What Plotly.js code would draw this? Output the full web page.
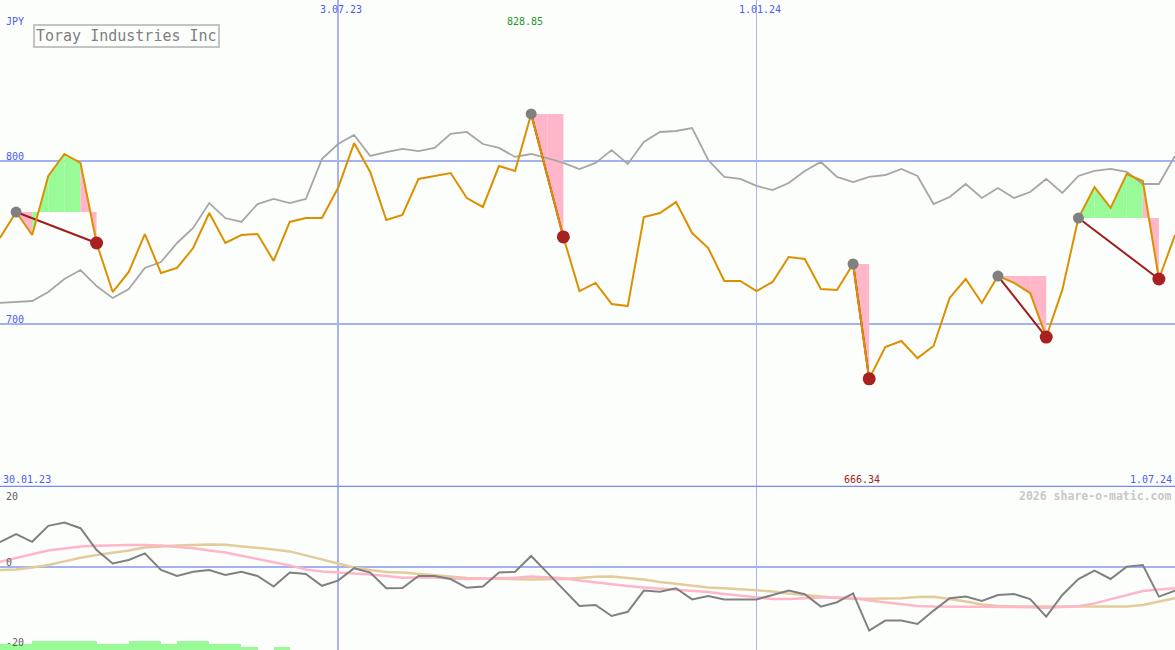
<!DOCTYPE html>
<html>
<head>
<meta charset="utf-8">
<script src="https://cdn.plot.ly/plotly-3.0.1.min.js"></script>
<style>
html,body{margin:0;padding:0;background:#fcfefc;}
#chart{width:1175px;height:650px;}
</style>
</head>
<body>
<div id="chart"></div>
<script>
// ---- data (weekly) ----
const dates = ["2023-02-06","2023-02-13","2023-02-20","2023-02-27","2023-03-06","2023-03-13","2023-03-20","2023-03-27",
"2023-04-03","2023-04-10","2023-04-17","2023-04-24","2023-05-01","2023-05-08","2023-05-15","2023-05-22","2023-05-29",
"2023-06-05","2023-06-12","2023-06-19","2023-06-26","2023-07-03","2023-07-10","2023-07-17","2023-07-24","2023-07-31",
"2023-08-07","2023-08-14","2023-08-21","2023-08-28","2023-09-04","2023-09-11","2023-09-18","2023-09-25","2023-10-02",
"2023-10-09","2023-10-16","2023-10-23","2023-10-30","2023-11-06","2023-11-13","2023-11-20","2023-11-27","2023-12-04",
"2023-12-11","2023-12-18","2023-12-25","2024-01-01","2024-01-08","2024-01-15","2024-01-22","2024-01-29","2024-02-05",
"2024-02-12","2024-02-19","2024-02-26","2024-03-04","2024-03-11","2024-03-18","2024-03-25","2024-04-01","2024-04-08",
"2024-04-15","2024-04-22","2024-04-29","2024-05-06","2024-05-13","2024-05-20","2024-05-27","2024-06-03","2024-06-10",
"2024-06-17","2024-06-24","2024-07-01"];

const price = [752.8, 768.7, 754.6, 790.8, 804.3, 798.8, 749.7, 719.6, 731.9, 755.2,
731.3, 734.4, 746.6, 768.1, 749.7, 754.6, 755.2, 738.7, 762.6, 765.0,
765.0, 783.4, 811.0, 793.3, 763.8, 766.9, 789.0, 790.8, 792.6, 777.3,
771.8, 796.9, 793.9, 828.85, 790.2, 753.4, 720.2, 725.2, 712.3, 711.0,
765.6, 768.1, 774.8, 755.8, 746.6, 726.4, 726.4, 720.2, 725.8, 741.1,
739.9, 721.5, 720.9, 736.8, 666.34, 685.9, 689.6, 679.1, 686.5, 716.0,
727.6, 712.9, 729.4, 725.2, 719.0, 692.0, 720.9, 765.0, 784.0, 771.2,
792.0, 787.7, 727.6, 754.6];

const compare = [712.9, 713.5, 714.1, 719.6, 727.6, 733.1, 723.3, 716.0, 721.5, 734.4,
738.0, 749.7, 758.9, 774.2, 765.0, 762.6, 773.6, 776.7, 774.2, 776.7,
801.2, 810.4, 816.0, 803.1, 805.5, 807.4, 806.1, 808.0, 816.6, 817.8,
810.4, 808.0, 802.5, 804.3, 801.8, 798.8, 795.1, 798.8, 806.7, 798.2,
811.7, 817.8, 818.4, 820.2, 800.6, 790.2, 789.0, 784.7, 782.2, 786.5,
793.9, 799.4, 790.2, 787.1, 790.2, 791.4, 795.1, 790.8, 773.6, 777.9,
785.9, 777.3, 783.4, 777.3, 781.0, 789.0, 780.4, 790.8, 793.9, 795.1,
793.3, 785.9, 785.9, 803.1];

const momentum = [6.2, 8.2, 6.3, 10.3, 11.1, 9.7, 4.25, 0.9, 1.75, 3.4,
-0.75, -2.25, -1.2, -0.75, -2.0, -1.2, -2.25, -4.9, -1.4, -1.75,
-4.7, -3.4, -0.3, -1.4, -5.3, -5.25, -2.25, -2.25, -3.0, -5.2,
-4.9, -1.4, -1.2, 2.75, -1.4, -5.6, -9.75, -9.5, -12.25, -11.2,
-5.9, -6.2, -5.3, -8.1, -7.25, -8.1, -8.1, -8.1, -7.0, -5.9,
-6.8, -9.9, -8.8, -6.6, -15.9, -13.4, -13.4, -14.25, -10.9, -7.8,
-7.4, -8.5, -7.0, -6.75, -8.0, -12.4, -7.0, -3.0, -0.9, -3.0,
0.1, 0.5, -7.4, -5.9];

const avgFast = [1.3, 2.25, 3.1, 4.1, 4.6, 5.1, 5.3, 5.45, 5.5, 5.5,
5.4, 5.0, 4.7, 4.1, 3.6, 2.8, 2.05, 1.25, 0.4, -0.6,
-1.1, -1.4, -1.6, -1.9, -2.25, -2.7, -2.6, -2.6, -2.9, -3.0,
-2.9, -2.8, -2.7, -2.4, -2.6, -2.8, -3.4, -3.9, -4.3, -4.75,
-5.1, -5.4, -5.7, -5.9, -6.25, -6.75, -7.2, -7.6, -8.0, -8.0,
-7.75, -7.6, -7.6, -7.7, -8.4, -8.9, -9.4, -9.75, -9.9, -9.9,
-9.9, -9.9, -9.9, -9.9, -10.05, -10.2, -10.0, -9.8, -9.1, -8.1,
-7.0, -6.0, -5.6, -5.3];

const avgSlow = [-0.75, -0.6, -0.1, 0.5, 1.4, 2.3, 3.0, 3.6, 4.1, 4.9,
5.2, 5.4, 5.5, 5.65, 5.55, 5.2, 4.8, 4.4, 3.9, 2.9,
2.0, 0.9, -0.1, -0.75, -1.25, -1.4, -1.75, -2.0, -2.4, -2.75,
-2.9, -3.0, -3.05, -3.1, -3.05, -3.0, -2.75, -2.45, -2.4, -2.75,
-3.1, -3.75, -4.25, -4.75, -5.1, -5.3, -5.55, -5.9, -6.1, -6.6,
-7.0, -7.3, -7.75, -8.0, -7.95, -7.9, -7.8, -7.5, -7.45, -8.0,
-8.6, -9.4, -9.75, -9.9, -9.9, -9.9, -9.9, -9.9, -9.9, -9.9,
-9.9, -9.5, -8.7, -7.8];

const barHeights = [1.5, 1.5, 2.25, 2.25, 2.25, 2.25, 1.5, 1.5, 2.25, 2.25,
1.5, 2.25, 2.25, 1.5, 1.5, 0.75, 0, 0.75];

const phaseStart = [1, 33, 53, 62, 67];
const phaseEnd   = [6, 35, 54, 65, 72];

const gridDates = ["2023-07-03", "2024-01-01"];
const gridDateLabels = ["3.07.23", "1.01.24"];
const startLabel = "30.01.23";
const endLabel = "1.07.24";
const priceTicks = [700, 800];
const currency = "JPY";
const titleText = "Toray Industries Inc";
const credit = "2026 share-o-matic.com";

// ---- styling ----
const MONO = "DejaVu Sans Mono, Liberation Mono, monospace";
const BG = "#fcfefc";
const GRID = "#a4b2f2";
const BLUE_TXT = "#4a5cf2";
const Y_MIN = 600, Y_MAX = 898.77;
const Y2_MIN = -20.75, Y2_MAX = 19.75;

const traces = [];

// phase fills (segment by segment between line and starting level)
for (let p = 0; p < phaseStart.length; p++) {
  const s = phaseStart[p], e = phaseEnd[p];
  const level = price[s];
  for (let k = s; k < e; k++) {
    const up = price[k + 1] > level;
    traces.push({
      type: "scatter", mode: "lines", xaxis: "x", yaxis: "y",
      x: [dates[k], dates[k], dates[k + 1], dates[k + 1], dates[k]],
      y: [level, price[k], price[k + 1], level, level],
      fill: "toself", fillcolor: up ? "#98fb98" : "#ffb6c8",
      line: {width: 0}, hoverinfo: "skip"
    });
  }
}

traces.push({type: "scatter", mode: "lines", x: dates, y: compare, xaxis: "x", yaxis: "y",
  line: {color: "#a6a6a6", width: 1.8}});

// connectors (under the price line)
for (let p = 0; p < phaseStart.length; p++) {
  const s = phaseStart[p], e = phaseEnd[p];
  traces.push({type: "scatter", mode: "lines", xaxis: "x", yaxis: "y",
    x: [dates[s], dates[e]], y: [price[s], price[e]],
    line: {color: "#a01c1c", width: 2}});
}

traces.push({type: "scatter", mode: "lines", x: dates, y: price, xaxis: "x", yaxis: "y",
  line: {color: "#dc9000", width: 2}});

traces.push({type: "scatter", mode: "markers", xaxis: "x", yaxis: "y",
  x: phaseStart.map(i => dates[i]), y: phaseStart.map(i => price[i]),
  marker: {color: "#808080", size: 11, line: {width: 0}}});
traces.push({type: "scatter", mode: "markers", xaxis: "x", yaxis: "y",
  x: phaseEnd.map(i => dates[i]), y: phaseEnd.map(i => price[i]),
  marker: {color: "#a82020", size: 13, line: {width: 0}}});

// lower panel
traces.push({type: "bar", xaxis: "x", yaxis: "y2",
  x: dates.slice(0, barHeights.length), y: barHeights, base: Y2_MIN,
  width: 7 * 86400000, offset: 0,
  marker: {color: "#98fb98", line: {width: 0}}});
traces.push({type: "scatter", mode: "lines", x: dates, y: avgSlow, xaxis: "x", yaxis: "y2",
  line: {color: "#e2cc9c", width: 2.5}});
traces.push({type: "scatter", mode: "lines", x: dates, y: avgFast, xaxis: "x", yaxis: "y2",
  line: {color: "#ffb6c8", width: 2.5}});
traces.push({type: "scatter", mode: "lines", x: dates, y: momentum, xaxis: "x", yaxis: "y2",
  line: {color: "#808080", width: 2}});

// ---- annotations ----
const ann = [];
function txt(o) { return Object.assign({showarrow: false, font: {family: MONO, size: 10, color: BLUE_TXT}}, o); }

priceTicks.forEach(v => ann.push(txt({text: String(v), xref: "paper", x: 4/1175, xanchor: "left",
  yref: "y", y: v, yanchor: "bottom", yshift: -3})));
ann.push(txt({text: currency, xref: "paper", x: 4/1175, xanchor: "left", yref: "paper", y: 1, yanchor: "top", yshift: -14}));
gridDates.forEach((d, i) => ann.push(txt({text: gridDateLabels[i], xref: "x", x: d, xanchor: "center", xshift: 3,
  yref: "paper", y: 1, yanchor: "top", yshift: -2})));
ann.push(txt({text: startLabel, xref: "paper", x: 0, xanchor: "left", xshift: 1, yref: "y", y: Y_MIN, yanchor: "bottom", yshift: 0}));
ann.push(txt({text: endLabel, xref: "paper", x: 1, xanchor: "right", xshift: -1, yref: "y", y: Y_MIN, yanchor: "bottom", yshift: 0}));

let iMax = 0, iMin = 0;
price.forEach((v, i) => { if (v > price[iMax]) iMax = i; if (v < price[iMin]) iMin = i; });
ann.push(txt({text: price[iMax].toFixed(2), xref: "x", x: dates[iMax], xanchor: "center", xshift: -6,
  yref: "paper", y: 1, yanchor: "top", yshift: -14, font: {family: MONO, size: 10, color: "#229922"}}));
ann.push(txt({text: price[iMin].toFixed(2), xref: "x", x: dates[iMin], xanchor: "center", xshift: -7,
  yref: "y", y: Y_MIN, yanchor: "bottom", yshift: 0, font: {family: MONO, size: 10, color: "#a02424"}}));

ann.push({text: titleText, showarrow: false, xref: "paper", x: 33/1175, xanchor: "left",
  yref: "paper", y: 1, yanchor: "top", yshift: -24,
  font: {family: MONO, size: 15, color: "#808080"},
  bordercolor: "#c4c4c4", borderwidth: 2, borderpad: 1, bgcolor: BG});

ann.push({text: credit, showarrow: false, xref: "paper", x: 1, xanchor: "right", xshift: -2,
  yref: "y2", y: Y2_MAX, yanchor: "top", yshift: 1,
  font: {family: MONO, size: 11.5, color: "#c8c8c8", weight: "bold"}});

ann.push(txt({text: "20", xref: "paper", x: 4/1175, xanchor: "left", yref: "y2", y: Y2_MAX, yanchor: "top", yshift: -1,
  font: {family: MONO, size: 10, color: "#606060"}}));
ann.push(txt({text: "0", xref: "paper", x: 4/1175, xanchor: "left", yref: "y2", y: 0, yanchor: "bottom", yshift: -3,
  font: {family: MONO, size: 10, color: "#606060"}}));
ann.push(txt({text: "-20", xref: "paper", x: 4/1175, xanchor: "left", yref: "y2", y: -20, yanchor: "bottom", yshift: -3,
  font: {family: MONO, size: 10, color: "#606060"}}));

// ---- shapes ----
const shapes = [];
gridDates.forEach((d, i) => shapes.push({type: "line", xref: "x", x0: d, x1: d, yref: "paper", y0: 0, y1: 1,
  line: {color: "#a8b4f0", width: i === 0 ? 2 : 1}, layer: "below"}));
shapes.push({type: "line", xref: "paper", x0: 0, x1: 1, yref: "y", y0: Y_MIN, y1: Y_MIN,
  line: {color: "#7888f0", width: 2.5}, layer: "above"});

const layout = {
  width: 1175, height: 650,
  margin: {l: 0, r: 0, t: 0, b: 0, pad: 0},
  paper_bgcolor: BG, plot_bgcolor: BG,
  showlegend: false, hovermode: false,
  xaxis: {type: "date", range: [dates[0], dates[dates.length - 1]], visible: false, fixedrange: true},
  yaxis: {domain: [163/650, 1], range: [Y_MIN, Y_MAX], tickvals: priceTicks, showticklabels: false,
    showgrid: true, gridcolor: GRID, gridwidth: 2, zeroline: false, ticks: "", fixedrange: true},
  yaxis2: {domain: [0, 162/650], range: [Y2_MIN, Y2_MAX], tickvals: [0], showticklabels: false,
    showgrid: true, gridcolor: GRID, gridwidth: 2, zeroline: false, ticks: "", fixedrange: true},
  bargap: 0,
  annotations: ann,
  shapes: shapes
};

Plotly.newPlot("chart", traces, layout, {staticPlot: true, displayModeBar: false});
</script>
</body>
</html>
